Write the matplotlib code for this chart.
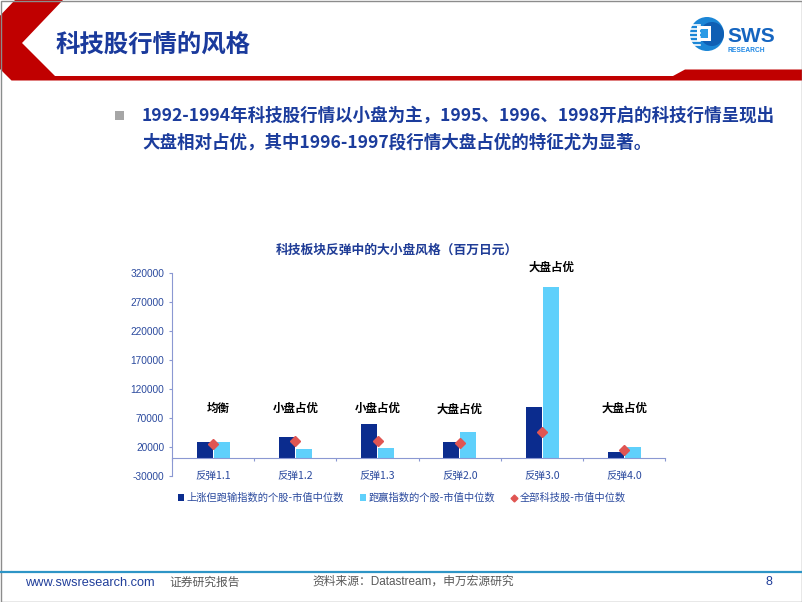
import matplotlib
matplotlib.use('Agg')
import matplotlib.pyplot as plt
from matplotlib.patches import Polygon, Circle, Rectangle, Patch
from matplotlib.lines import Line2D
import numpy as np

plt.rcParams['font.family'] = ['Noto Sans CJK SC', 'DejaVu Sans']

# data (百万日元)
categories = ['反弹1.1', '反弹1.2', '反弹1.3', '反弹2.0', '反弹3.0', '反弹4.0']
lag_median = [27700, 36500, 59600, 28200, 88500, 11000]     # 上涨但跑输指数的个股
lead_median = [28000, 16300, 18300, 45100, 296000, 19500]   # 跑赢指数的个股
all_median = [25000, 30000, 30000, 27000, 45500, 13500]     # 全部科技股
styles = ['均衡', '小盘占优', '小盘占优', '大盘占优', '大盘占优', '大盘占优']
style_y = [85000, 85000, 85000, 85000, 330000, 86000]
style_dx = [0.06, 0.0, 0.0, 0.0, 0.12, 0.0]
yticks = list(range(-30000, 320001, 50000))
legend_labels = ['上涨但跑输指数的个股-市值中位数', '跑赢指数的个股-市值中位数', '全部科技股-市值中位数']

dark = '#0b2c8e'
light = '#5fd0fb'
red = '#e05552'
axis_col = '#8b98d2'
tick_col = '#2b4a9e'
latin = ['Liberation Sans', 'Noto Sans CJK SC']

fig = plt.figure(figsize=(8.02, 6.02), dpi=100)

# slide decoration layer, pixel coordinates
bg = fig.add_axes([0, 0, 1, 1])
bg.set_xlim(0, 802)
bg.set_ylim(602, 0)
bg.axis('off')

band = [(15, 0), (63, 0), (22, 43), (55, 76), (673, 76), (685, 69.5), (802, 69.5),
        (802, 80.5), (11.5, 80.5), (0, 69), (0, 15.7)]
bg.add_patch(Polygon(band, closed=True, color='#c00000', lw=0))
bg.add_patch(Rectangle((0.5, 0.5), 801, 601, fill=False, ec='#8c8c8c', lw=1))

bg.text(55, 46, '科技股行情的风格', fontsize=17.6, fontweight='bold', color='#1a3a9c', va='center')

# logo
bg.add_patch(Circle((707, 34), 17, color='#1b86d6', lw=0))
bg.add_patch(Circle((712, 34), 12, color='#0f5fb4', lw=0))
for yy in [25, 29, 33, 37, 41, 45]:
    bg.plot([689, 700], [yy, yy], color='white', lw=1.2)
bg.add_patch(Rectangle((697, 26), 14, 15, color='white', lw=0))
bg.add_patch(Rectangle((700, 29), 8, 9, color='#2a9be6', lw=0))
bg.text(727, 37, 'SWS', fontsize=15, fontweight='bold', color='#1565c0', va='center', family='Liberation Sans')
bg.text(728, 51, 'RESEARCH', fontsize=4.8, fontweight='bold', color='#1e88e5', va='center', family='Liberation Sans')

# bullet
bg.add_patch(Rectangle((115, 111), 9, 9, color='#a6a6a6', lw=0))
bg.text(142, 116, '1992-1994年科技股行情以小盘为主，1995、1996、1998开启的科技行情呈现出',
        fontsize=12.6, fontweight='bold', color='#1b3c9c', va='center')
bg.text(142, 143, '大盘相对占优，其中1996-1997段行情大盘占优的特征尤为显著。',
        fontsize=12.6, fontweight='bold', color='#1b3c9c', va='center')

bg.text(397, 250, '科技板块反弹中的大小盘风格（百万日元）', fontsize=9.2, fontweight='bold',
        color='#1f3c96', ha='center', va='center')

# footer
bg.plot([1, 801], [571.5, 571.5], color='#2e95c6', lw=1.6)
bg.text(25, 583, 'www.swsresearch.com', fontsize=9.2, color='#203e9a', va='center', family='Liberation Sans')
bg.text(169, 582, '证券研究报告', fontsize=8.5, color='#595959', va='center')
bg.text(312, 582, '资料来源：Datastream，申万宏源研究', fontsize=8.5, color='#595959', va='center',
        family=latin)
bg.text(765, 582, '8', fontsize=9, color='#203e9a', va='center', family='Liberation Sans')

# chart
ax = fig.add_axes([172 / 802, 1 - 475.5 / 602, 493.5 / 802, 202.5 / 602])
x = np.arange(len(categories))
w = 0.195
ax.bar(x - 0.103, lag_median, w, color=dark, label=legend_labels[0], zorder=2)
ax.bar(x + 0.103, lead_median, w, color=light, label=legend_labels[1], zorder=2)
ax.plot(x, all_median, ls='none', marker='D', ms=5, color=red, label=legend_labels[2], zorder=3)

for i, s in enumerate(styles):
    ax.text(x[i] + style_dx[i], style_y[i], s, ha='center', va='center', fontsize=8.3,
            fontweight='bold', color='black', clip_on=False)

ax.set_xlim(-0.5, len(categories) - 0.5)
ax.set_ylim(-30000, 320000)
ax.set_yticks(yticks)
ax.set_yticklabels([str(v) for v in yticks], family=latin)
ax.set_xticks(x)
ax.set_xticklabels(categories, family=latin)
ax.set_xticks(np.arange(-0.5, len(categories)), minor=True)
ax.tick_params(axis='x', which='major', length=0, pad=9, labelsize=7.6, labelcolor=tick_col)
ax.tick_params(axis='x', which='minor', length=2.5, color=axis_col, width=0.8)
ax.tick_params(axis='y', length=2.2, color=axis_col, width=0.8, pad=3.5, labelsize=7.3, labelcolor=tick_col)
for sp in ['top', 'right']:
    ax.spines[sp].set_visible(False)
ax.spines['bottom'].set_position(('data', 0))
ax.spines['bottom'].set_color(axis_col)
ax.spines['left'].set_color(axis_col)
ax.spines['left'].set_linewidth(0.8)
ax.spines['bottom'].set_linewidth(0.8)
ax.patch.set_visible(False)

handles = [Patch(facecolor=dark), Patch(facecolor=light),
           Line2D([], [], ls='none', marker='D', ms=3.5, color=red)]
leg = ax.legend(handles, legend_labels, loc='center', bbox_to_anchor=(0.466, -0.111), ncol=3,
                frameon=False, fontsize=7.4, handlelength=0.6, handleheight=0.6,
                handletextpad=0.3, columnspacing=1.5)
for t in leg.get_texts():
    t.set_color(tick_col)

fig.savefig('out.png', dpi=100)
